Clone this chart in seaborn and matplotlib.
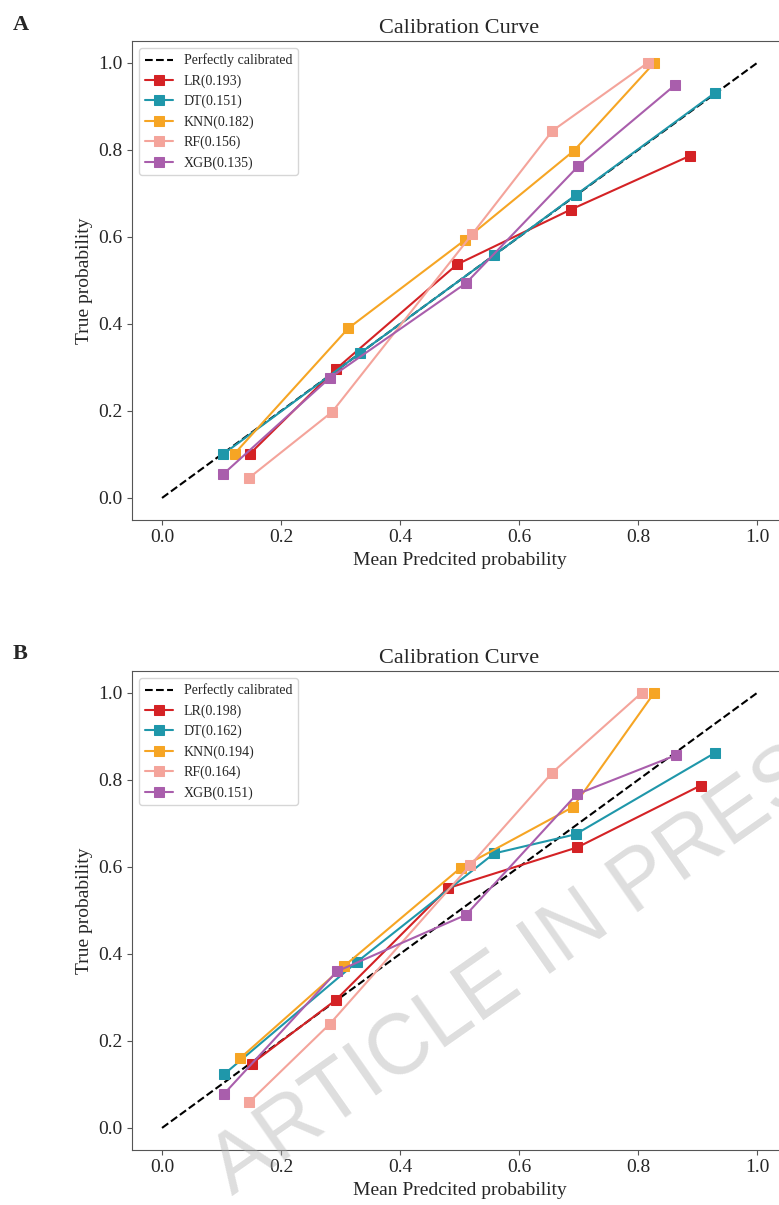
import numpy as np
import pandas as pd
import matplotlib
matplotlib.use('Agg')
import matplotlib.pyplot as plt
import seaborn as sns

# model names and colours
models = ['LR', 'DT', 'KNN', 'RF', 'XGB']
colors = ['#d42225', '#1f97aa', '#f6a524', '#f4a49b', '#a95eac']

# panel A: mean predicted prob (x) / fraction of positives (y)
a_scores = [0.193, 0.151, 0.182, 0.156, 0.135]
a_x = {
    'LR':  [0.148, 0.292, 0.496, 0.687, 0.888],
    'DT':  [0.102, 0.333, 0.558, 0.695, 0.929],
    'KNN': [0.122, 0.313, 0.509, 0.692, 0.827],
    'RF':  [0.147, 0.286, 0.521, 0.656, 0.816],
    'XGB': [0.103, 0.282, 0.511, 0.699, 0.862],
}
a_y = {
    'LR':  [0.102, 0.296, 0.537, 0.663, 0.787],
    'DT':  [0.100, 0.333, 0.558, 0.696, 0.931],
    'KNN': [0.102, 0.390, 0.593, 0.798, 1.000],
    'RF':  [0.047, 0.198, 0.606, 0.844, 1.000],
    'XGB': [0.055, 0.276, 0.494, 0.762, 0.949],
}

# panel B
b_scores = [0.198, 0.162, 0.194, 0.164, 0.151]
b_x = {
    'LR':  [0.151, 0.292, 0.480, 0.698, 0.905],
    'DT':  [0.104, 0.328, 0.558, 0.695, 0.929],
    'KNN': [0.131, 0.306, 0.502, 0.691, 0.827],
    'RF':  [0.147, 0.282, 0.518, 0.656, 0.806],
    'XGB': [0.104, 0.294, 0.511, 0.697, 0.864],
}
b_y = {
    'LR':  [0.148, 0.294, 0.551, 0.645, 0.787],
    'DT':  [0.123, 0.382, 0.631, 0.675, 0.862],
    'KNN': [0.160, 0.372, 0.598, 0.738, 1.000],
    'RF':  [0.060, 0.239, 0.604, 0.817, 1.000],
    'XGB': [0.078, 0.360, 0.490, 0.767, 0.857],
}

perfect = [0.0, 1.0]
ticks = [0.0, 0.2, 0.4, 0.6, 0.8, 1.0]

sns.set_style('ticks')
plt.rcParams['font.family'] = ['Liberation Serif', 'DejaVu Serif']
plt.rcParams['axes.edgecolor'] = '#555555'

fig = plt.figure(figsize=(7.79, 12.05), dpi=100)
ax_a = fig.add_axes([0.1698, 0.5687, 0.8402, 0.3971])
ax_b = fig.add_axes([0.1698, 0.0459, 0.8402, 0.3971])


def draw_panel(ax, xs, ys, scores):
    ax.plot(perfect, perfect, 'k--', label='Perfectly calibrated')
    for name, col, sc in zip(models, colors, scores):
        df = pd.DataFrame({'x': xs[name], 'y': ys[name]})
        sns.lineplot(data=df, x='x', y='y', ax=ax, color=col, marker='s',
                     markersize=7, markeredgecolor=col, linewidth=1.5,
                     sort=False, estimator=None,
                     label='%s(%.3f)' % (name, sc))
    ax.set_xlim(-0.05, 1.05)
    ax.set_ylim(-0.05, 1.05)
    ax.set_xticks(ticks)
    ax.set_yticks(ticks)
    ax.tick_params(labelsize=14, color='#555555')
    ax.set_xlabel('Mean Predcited probability', fontsize=14)
    ax.set_ylabel('True probability', fontsize=14)
    ax.set_title('Calibration Curve', fontsize=16)
    ax.legend(loc='upper left', fontsize=10)


draw_panel(ax_a, a_x, a_y, a_scores)
draw_panel(ax_b, b_x, b_y, b_scores)

fig.text(13 / 779, 1 - 15 / 1205, 'A', fontsize=16, fontweight='bold', va='top')
fig.text(13 / 779, 1 - 644 / 1205, 'B', fontsize=16, fontweight='bold', va='top')

# watermark
fig.text(232 / 779, 1 - 1196 / 1205, 'ARTICLE IN PRESS', fontsize=61,
         family='Liberation Sans', color='#b0b0b0', alpha=0.42,
         rotation=35, rotation_mode='anchor', ha='left', va='baseline')

fig.savefig('out.png', dpi=100)
